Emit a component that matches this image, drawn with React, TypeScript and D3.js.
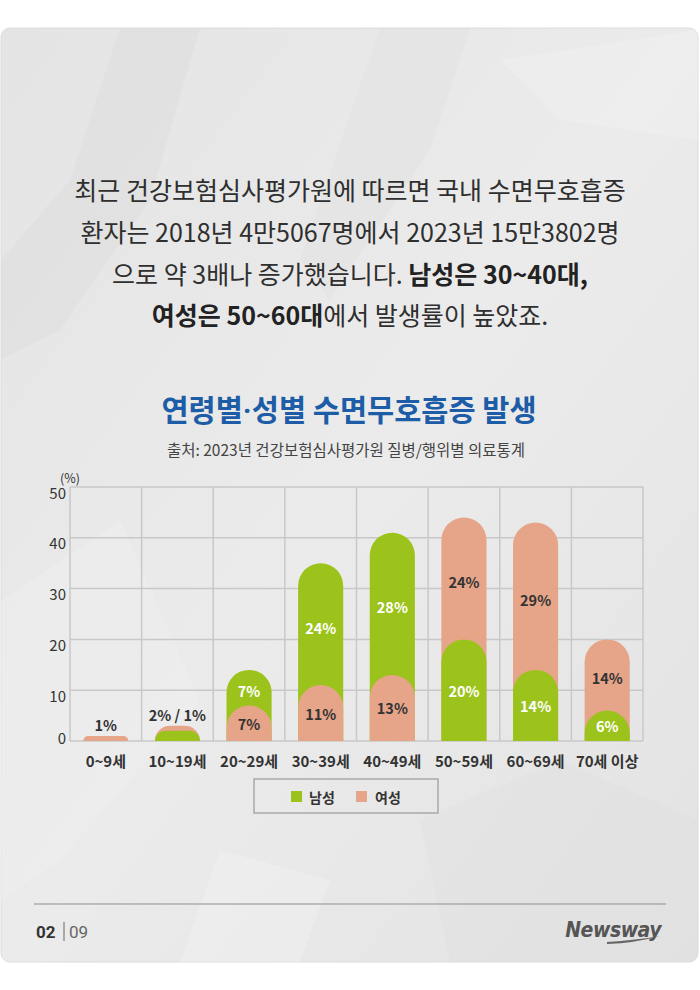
import React from "react";
import * as d3 from "d3";

const categories = ["0~9세", "10~19세", "20~29세", "30~39세", "40~49세", "50~59세", "60~69세", "70세 이상"];
const maleValues = [0, 2, 7, 24, 28, 20, 14, 6];
const femaleValues = [1, 1, 7, 11, 13, 24, 29, 14];
// which series sits at the bottom of each stacked pill
const bottomSeries = ["f", "m", "f", "f", "f", "m", "m", "m"];
const yTicks = [0, 10, 20, 30, 40, 50];
const legendLabels = ["남성", "여성"];

const GREEN = "#9cc31c";
const SALMON = "#e6a489";
const KR = "'Noto Sans CJK KR', 'Noto Sans', sans-serif";

function pillPath(x0: number, w: number, yTop: number, yBase: number) {
  const h = yBase - yTop;
  const r = Math.min(w / 2, h);
  const x1 = x0 + w;
  return `M${x0},${yBase} V${yTop + r} A${r},${r} 0 0 1 ${x0 + r},${yTop} H${x1 - r} A${r},${r} 0 0 1 ${x1},${yTop + r} V${yBase} Z`;
}

export default function App() {
  const x = d3.scaleBand<string>().domain(categories).range([70, 643]).padding(0);
  const y = d3.scaleLinear().domain([0, 50]).range([741, 487]);
  const bw = x.bandwidth();
  const barW = bw * 0.63;

  const bars = categories.map((c, i) => {
    const m = maleValues[i];
    const f = femaleValues[i];
    const bottomIsMale = bottomSeries[i] === "m";
    const bottomVal = bottomIsMale ? m : f;
    const topVal = bottomIsMale ? f : m;
    const total = m + f;
    const x0 = (x(c) as number) + (bw - barW) / 2;
    const cx = (x(c) as number) + bw / 2;
    return { c, i, m, f, bottomIsMale, bottomVal, topVal, total, x0, cx };
  });

  return (
    <svg width={700} height={990} style={{ position: "absolute", left: 0, top: 0 }} fontFamily={KR}>
      <defs>
        <linearGradient id="paper" x1="0" y1="0" x2="1" y2="1">
          <stop offset="0" stopColor="#e4e4e4" />
          <stop offset="0.5" stopColor="#ebebeb" />
          <stop offset="1" stopColor="#e3e3e3" />
        </linearGradient>
        <clipPath id="card">
          <rect x={1} y={28} width={697} height={934} rx={9} />
        </clipPath>
      </defs>
      <rect x={0} y={0} width={700} height={990} fill="#ffffff" />
      <rect x={1} y={28} width={697} height={934} rx={9} fill="url(#paper)" stroke="#dcdcdc" strokeWidth={1} />
      {/* faint paper creases */}
      <g clipPath="url(#card)">
        <polygon points="120,28 200,28 150,200 60,330 1,360 1,260 70,180" fill="#d8d8d8" opacity={0.3} />
        <polygon points="380,28 470,28 430,150 330,300 300,260" fill="#dadada" opacity={0.25} />
        <polygon points="500,60 698,30 698,140 560,120" fill="#f2f2f2" opacity={0.4} />
        <polygon points="1,600 120,520 200,700 60,860 1,900" fill="#f0f0f0" opacity={0.4} />
        <polygon points="420,820 560,760 698,820 698,962 450,962" fill="#dcdcdc" opacity={0.25} />
        <polygon points="220,850 330,880 300,962 180,962" fill="#f3f3f3" opacity={0.4} />
      </g>

      {/* paragraph */}
      <g fill="#2f2f2f" fontSize={25} textAnchor="middle">
        <text x={350} y={200}>최근 건강보험심사평가원에 따르면 국내 수면무호흡증</text>
        <text x={350} y={242}>환자는 2018년 4만5067명에서 2023년 15만3802명</text>
        <text x={350} y={284}>
          으로 약 3배나 증가했습니다. <tspan fontWeight="bold" fill="#222">남성은 30~40대,</tspan>
        </text>
        <text x={350} y={325}>
          <tspan fontWeight="bold" fill="#222">여성은 50~60대</tspan>에서 발생률이 높았죠.
        </text>
      </g>

      {/* title */}
      <text x={349} y={421} textAnchor="middle" fontSize={29.5} fontWeight="bold" fill="#1d5ca6">
        연령별<tspan fontFamily="Roboto, sans-serif">·</tspan>성별 수면무호흡증 발생
      </text>
      <text x={346} y={456} textAnchor="middle" fontSize={15.5} fill="#444">
        출처: 2023년 건강보험심사평가원 질병/행위별 의료통계
      </text>

      {/* grid */}
      <g stroke="#c8c8c8" strokeWidth={1.5}>
        {yTicks.map((t) => (
          <line key={"h" + t} x1={70} x2={643} y1={y(t)} y2={y(t)} />
        ))}
        {categories.map((c) => (
          <line key={"v" + c} x1={x(c) as number} x2={x(c) as number} y1={y(50)} y2={y(0)} />
        ))}
        <line x1={643} x2={643} y1={y(50)} y2={y(0)} />
      </g>

      {/* y ticks */}
      <g fontSize={15} fill="#333" textAnchor="end">
        {yTicks.map((t) => (
          <text key={t} x={66} y={t === 0 ? y(t) - 4 : y(t) + 5} dominantBaseline="central">
            {t}
          </text>
        ))}
        <text x={80} y={477} fontSize={12.5} dominantBaseline="central">(%)</text>
      </g>

      {/* bars */}
      {bars.map((b) => {
        const topColor = b.bottomIsMale ? SALMON : GREEN;
        const bottomColor = b.bottomIsMale ? GREEN : SALMON;
        return (
          <g key={b.c}>
            {b.topVal > 0 && <path d={pillPath(b.x0, barW, y(b.total), y(0))} fill={topColor} />}
            {b.bottomVal > 0 && <path d={pillPath(b.x0, barW, y(b.bottomVal), y(0))} fill={bottomColor} />}
          </g>
        );
      })}

      {/* value labels */}
      <g fontSize={14.5} fontWeight="bold" textAnchor="middle">
        {bars.map((b) => {
          if (b.total < 5) {
            const lbl = b.m > 0 ? `${b.m}% / ${b.f}%` : `${b.f}%`;
            return (
              <text key={b.c} x={b.cx} y={y(b.total) - 11} fill="#333" dominantBaseline="central">
                {lbl}
              </text>
            );
          }
          const bottomMid = (y(0) + y(b.bottomVal)) / 2;
          const topMid = (y(b.bottomVal) + y(b.total)) / 2 + 3;
          const bottomFill = b.bottomIsMale ? "#ffffff" : "#333";
          const topFill = b.bottomIsMale ? "#333" : "#ffffff";
          return (
            <g key={b.c}>
              <text x={b.cx} y={bottomMid} fill={bottomFill} dominantBaseline="central">
                {b.bottomVal}%
              </text>
              <text x={b.cx} y={topMid} fill={topFill} dominantBaseline="central">
                {b.topVal}%
              </text>
            </g>
          );
        })}
      </g>

      {/* category labels */}
      <g fontSize={15} fontWeight="bold" fill="#333" textAnchor="middle">
        {categories.map((c) => (
          <text key={c} x={(x(c) as number) + bw / 2} y={760} dominantBaseline="central">
            {c}
          </text>
        ))}
      </g>

      {/* legend */}
      <rect x={254} y={779} width={184} height={34} fill="none" stroke="#a9a9a9" strokeWidth={1.5} />
      <rect x={291} y={791} width={11} height={11} fill={GREEN} />
      <text x={309} y={797} fontSize={14} fontWeight="bold" fill="#333" dominantBaseline="central">
        {legendLabels[0]}
      </text>
      <rect x={356} y={791} width={11} height={11} fill={SALMON} />
      <text x={375} y={797} fontSize={14} fontWeight="bold" fill="#333" dominantBaseline="central">
        {legendLabels[1]}
      </text>

      {/* footer */}
      <line x1={34} x2={666} y1={904} y2={904} stroke="#8f8f8f" strokeWidth={1} />
      <text x={36} y={932} fontSize={17} fontWeight="bold" fill="#333" fontFamily="Roboto, sans-serif" dominantBaseline="central">
        02
      </text>
      <line x1={64} x2={64} y1={922} y2={941} stroke="#666" strokeWidth={1} />
      <text x={69} y={932} fontSize={17} fill="#666" fontFamily="Roboto, sans-serif" dominantBaseline="central">
        09
      </text>
      <text x={661} y={930} textAnchor="end" fontSize={21} fontWeight="bold" fontStyle="italic" fill="#555" fontFamily="'DejaVu Sans Condensed', 'DejaVu Sans', sans-serif" dominantBaseline="central" letterSpacing={-0.5}>
        Newsway
      </text>
      <path d="M607,944 Q635,943 660,936 Q636,940 607,942 Z" fill="#666" />
    </svg>
  );
}
